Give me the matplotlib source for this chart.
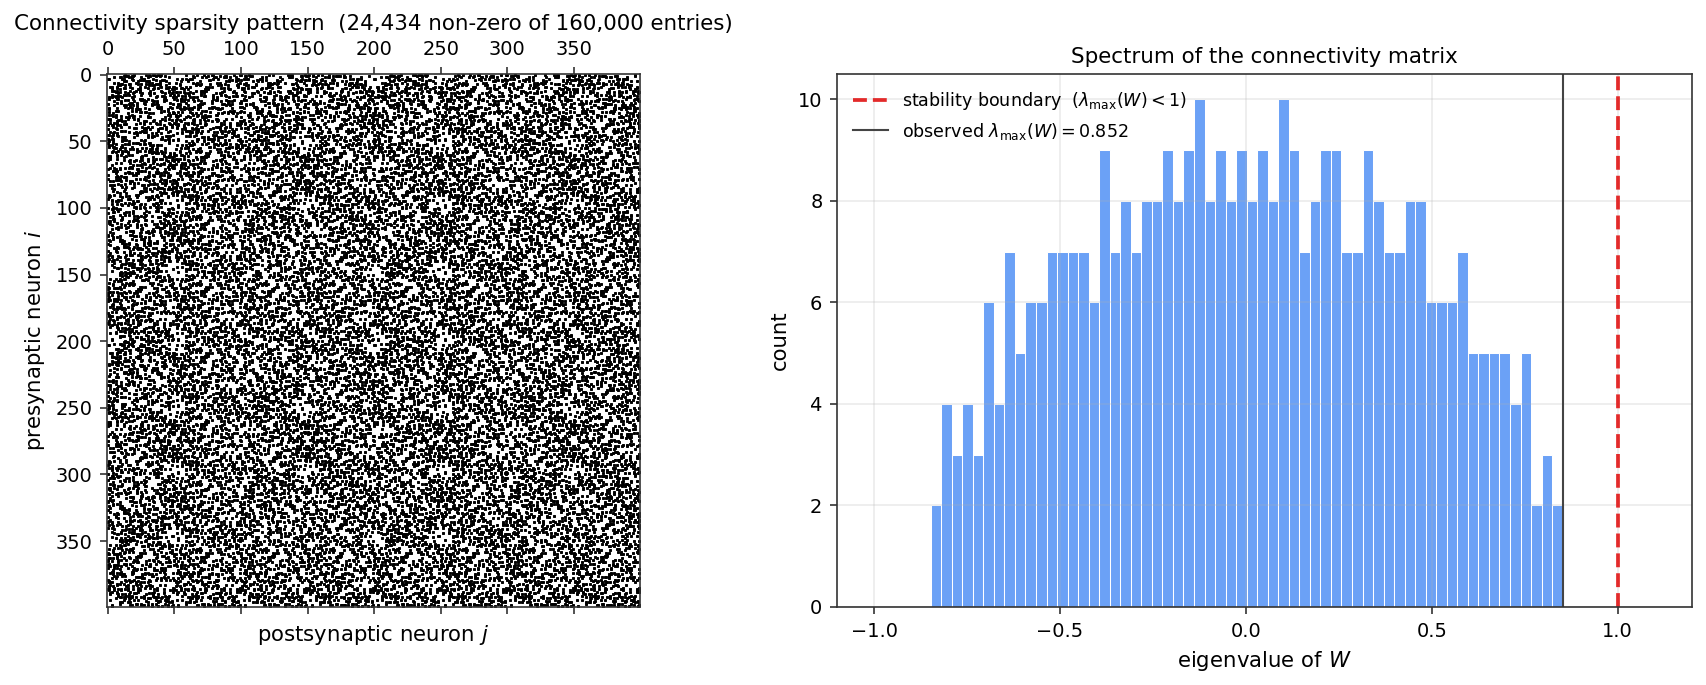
#!/usr/bin/env python3
"""
Connectivity matrix overview
Sparsity pattern of W next to the histogram of its eigenvalues
"""

import sys
import matplotlib
matplotlib.use('Agg')
import matplotlib.pyplot as plt
import numpy as np

n_neurons = 400
n_nonzero = 24434
lambda_max = 0.852
stability_limit = 1.0

# Eigenvalue histogram
eig_low = -0.848
eig_counts = [2, 4, 3, 4, 3, 6, 4, 7, 5, 6,
              6, 7, 7, 7, 7, 6, 9, 7, 8, 7,
              8, 8, 9, 8, 9, 10, 8, 9, 8, 9,
              8, 9, 8, 10, 9, 7, 8, 9, 9, 7,
              7, 9, 8, 7, 7, 8, 8, 6, 6, 6,
              7, 5, 5, 5, 5, 4, 5, 2, 3, 2]

# Column indices per row for one 50x50 block of the matrix (estimated by eye)
block_cols = [
    [3, 4, 12, 19, 20, 21, 27, 33, 40, 47],
    [2, 8, 15, 26, 27, 38, 44],
    [1, 9, 17, 23, 30, 31, 42, 49],
    [5, 13, 14, 22, 29, 36, 37, 45],
    [7, 15, 16, 24, 25, 39, 48],
    [2, 10, 18, 28, 29, 35, 41, 46],
    [6, 7, 16, 23, 33, 34, 35, 42],
    [0, 11, 12, 20, 23, 30, 43, 44, 49],
    [3, 4, 17, 26, 31, 38, 39, 47],
    [4, 5, 8, 14, 21, 22, 27, 33, 40, 47],
    [1, 9, 15, 24, 25, 32, 36, 45, 46],
    [6, 18, 19, 24, 28, 29, 37, 42],
    [3, 6, 7, 13, 25, 34, 38, 44, 49],
    [1, 2, 11, 20, 30, 31, 36, 43],
    [2, 16, 17, 22, 28, 35, 40, 41, 47],
    [9, 10, 15, 26, 27, 37, 44, 45],
    [0, 5, 14, 23, 32, 33, 38, 44, 48],
    [4, 12, 19, 28, 33, 39, 45, 46],
    [7, 8, 12, 17, 21, 24, 36, 42, 48],
    [3, 15, 23, 29, 30, 34, 49],
    [1, 10, 11, 17, 18, 25, 33, 38, 43, 47],
    [0, 6, 20, 22, 31, 40, 41, 46],
    [4, 13, 18, 26, 27, 35, 40, 46],
    [1, 9, 16, 25, 26, 33, 37, 44, 48, 49],
    [2, 3, 14, 23, 28, 35, 42],
    [7, 11, 19, 21, 30, 39, 45, 48, 49],
    [0, 11, 12, 18, 25, 34, 35, 47],
    [5, 10, 17, 24, 32, 37, 41, 43],
    [8, 15, 20, 27, 30, 36, 42, 49],
    [1, 2, 13, 22, 29, 33, 38, 39, 46],
    [2, 3, 10, 18, 26, 33, 38, 44],
    [4, 6, 16, 23, 28, 31, 37, 42, 48],
    [5, 12, 19, 20, 28, 33, 34, 40, 47],
    [0, 8, 9, 16, 25, 34, 35, 45],
    [3, 7, 8, 14, 22, 30, 38, 43, 49],
    [6, 17, 18, 27, 32, 41, 47],
    [1, 11, 15, 24, 28, 36, 37, 46, 47],
    [5, 15, 21, 24, 29, 33, 34, 39, 44],
    [9, 13, 20, 26, 33, 34, 42, 48],
    [2, 3, 10, 19, 23, 31, 40, 45],
    [1, 7, 16, 28, 35, 45, 49],
    [0, 10, 11, 20, 25, 31, 32, 37, 43],
    [4, 8, 14, 22, 30, 38, 42, 47],
    [6, 13, 18, 27, 32, 33, 41, 46],
    [1, 8, 12, 19, 24, 36, 40, 41, 44],
    [4, 15, 16, 21, 29, 39, 48, 49],
    [3, 5, 10, 19, 26, 34, 36, 42, 47],
    [9, 10, 16, 23, 31, 37, 41, 45],
    [0, 5, 13, 17, 24, 28, 35, 40, 47],
    [2, 7, 12, 20, 22, 27, 33, 38, 43, 44],
]

# Reordering of the block, breaks up the diagonal runs in the list above
row_order = [31, 7, 44, 12, 26, 2, 39, 18, 47, 9,
             23, 35, 0, 14, 41, 28, 5, 49, 20, 33,
             11, 37, 3, 25, 45, 16, 8, 30, 42, 21,
             1, 36, 13, 48, 27, 6, 32, 19, 43, 10,
             24, 38, 4, 46, 17, 29, 15, 40, 22, 34]
col_order = [13, 38, 5, 27, 46, 19, 2, 33, 10, 41,
             24, 7, 49, 16, 30, 0, 36, 21, 44, 11,
             28, 3, 39, 17, 47, 8, 25, 34, 14, 42,
             1, 31, 20, 45, 6, 37, 12, 29, 48, 23,
             4, 35, 18, 43, 9, 26, 40, 15, 32, 22]

x_ticks = [0, 50, 100, 150, 200, 250, 300, 350]
hist_xticks = [-1.0, -0.5, 0.0, 0.5, 1.0]
hist_yticks = [0, 2, 4, 6, 8, 10]

DPI = 150
W_PX, H_PX = 1706, 685
DARK = '#333333'


def px_axes(fig, left, top, right, bottom):
    """Axes placed from pixel edges measured from the top left"""
    return fig.add_axes([left / W_PX, 1 - bottom / H_PX,
                         (right - left) / W_PX, (bottom - top) / H_PX])


def build_mask():
    """Fill the matrix with rotated copies of the block, thinned to n_nonzero"""
    block = np.zeros((50, 50), dtype=bool)
    for r, cols in enumerate(block_cols):
        block[r, cols] = True
    block = block[row_order][:, col_order]

    rows = []
    for i in range(8):
        rows.append(np.hstack([np.rot90(block, k=(3 * i + j * (i + 1)) % 4) for j in range(8)]))
    full = np.vstack(rows)

    r, c = np.nonzero(full)
    if len(r) < n_nonzero:
        sys.exit(f'only {len(r)} entries')
    keep = np.linspace(0, len(r) - 1, n_nonzero).astype(int)
    mask = np.zeros((n_neurons, n_neurons), dtype=bool)
    mask[r[keep], c[keep]] = True
    return mask


fig = plt.figure(figsize=(W_PX / DPI, H_PX / DPI), dpi=DPI, facecolor='white')

# Sparsity pattern
ax1 = px_axes(fig, 107, 74, 640, 607)
ax1.spy(build_mask(), markersize=1.3, color='black', markeredgewidth=0.45)
ax1.set_xticks(x_ticks)
ax1.set_yticks(x_ticks)
ax1.tick_params(labelsize=9.3, color=DARK)
ax1.set_xlabel('postsynaptic neuron $j$', fontsize=10.2)
ax1.xaxis.set_label_position('bottom')
ax1.set_ylabel('presynaptic neuron $i$', fontsize=10.2)
ax1.set_title(f'Connectivity sparsity pattern  ({n_nonzero:,} non-zero of {n_neurons ** 2:,} entries)',
              fontsize=10.25, pad=5)

# Eigenvalue histogram
ax2 = px_axes(fig, 837, 74, 1692, 607)
edges = np.linspace(eig_low, lambda_max, len(eig_counts) + 1)
ax2.bar(edges[:-1], eig_counts, width=np.diff(edges), align='edge',
        color='#6ba1f6', edgecolor='white', linewidth=0.5)
ax2.axvline(stability_limit, color='#e32a2a', linestyle='--', linewidth=1.8,
            label=r'stability boundary  ($\lambda_{\max}(W) < 1$)')
ax2.axvline(lambda_max, color='#444444', linewidth=1.0,
            label=rf'observed $\lambda_{{\max}}(W) = {lambda_max:.3f}$')
ax2.set_xlim(-1.1, 1.2)
ax2.set_ylim(0, 10.5)
ax2.set_xticks(hist_xticks)
ax2.set_yticks(hist_yticks)
ax2.tick_params(labelsize=9.3, color=DARK)
ax2.grid(True, alpha=0.25)
ax2.set_xlabel('eigenvalue of $W$', fontsize=10.2)
ax2.set_ylabel('count', fontsize=10.2)
ax2.set_title('Spectrum of the connectivity matrix', fontsize=10.25, pad=5.5)
ax2.legend(loc='upper left', frameon=False, fontsize=8.4)

for ax in (ax1, ax2):
    for spine in ax.spines.values():
        spine.set_edgecolor(DARK)

fig.savefig('out.png', dpi=DPI, facecolor='white')
plt.close(fig)
